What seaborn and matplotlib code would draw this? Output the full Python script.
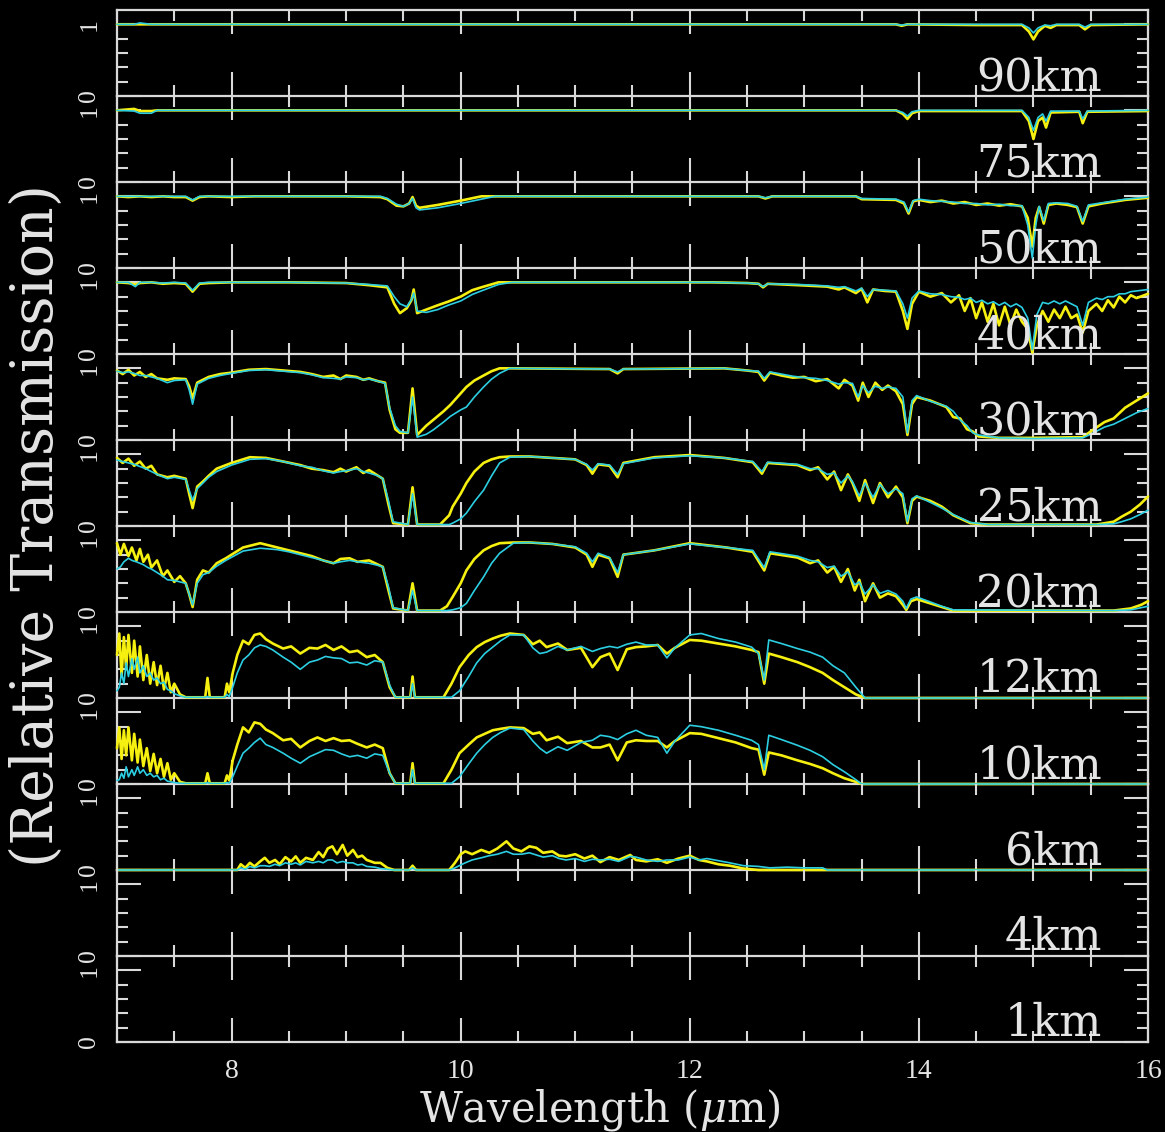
import matplotlib
matplotlib.use("Agg")
import matplotlib.pyplot as plt
from matplotlib.ticker import FixedLocator, MultipleLocator
import pandas as pd
import seaborn as sns

# Altitude panels, top to bottom
ALTITUDES = ["90km", "75km", "50km", "40km", "30km", "25km",
             "20km", "12km", "10km", "6km", "4km", "1km"]

X_TICKS = [8, 10, 12, 14, 16]
X_TICK_LABELS = ["8", "10", "12", "14", "16"]

# Each row: (wavelength in um, yellow transmission, cyan transmission)
KM90 = [(7.0, 1.0, 1.0), (7.15, 1.0, 1.0), (7.2, 1.0, 1.02), (7.3, 1.0, 1.0),
        (13.8, 1.0, 1.0), (13.85, 0.98, 0.99), (13.9, 1.0, 1.0), (14.5, 0.99, 1.0),
        (14.9, 0.99, 1.0), (14.96, 0.9, 0.95), (15.0, 0.79, 0.88), (15.04, 0.9, 0.95),
        (15.1, 0.98, 0.99), (15.15, 0.95, 0.98), (15.2, 0.99, 1.0), (15.4, 0.99, 1.0),
        (15.45, 0.93, 0.96), (15.5, 0.99, 1.0), (16.0, 1.0, 1.0)]

KM75 = [(7.0, 1.0, 1.0), (7.15, 1.02, 0.99), (7.2, 0.99, 0.96), (7.3, 0.99, 0.96),
        (7.35, 1.0, 1.0), (13.8, 1.0, 1.0), (13.86, 0.95, 0.97), (13.9, 0.88, 0.92),
        (13.94, 0.96, 0.98), (14.0, 0.99, 1.0), (14.9, 0.99, 1.0), (14.96, 0.85, 0.9),
        (15.0, 0.6, 0.72), (15.04, 0.85, 0.9), (15.08, 0.9, 0.95), (15.11, 0.76, 0.85),
        (15.15, 0.97, 0.99), (15.4, 0.98, 0.99), (15.43, 0.82, 0.88), (15.47, 0.98, 0.99),
        (16.0, 0.99, 1.0)]

KM50 = [(7.0, 1.0, 1.0), (7.1, 0.99, 1.0), (7.2, 1.0, 1.0), (7.3, 0.99, 1.0),
        (7.4, 1.0, 1.0), (7.5, 0.99, 1.0), (7.6, 0.99, 1.0), (7.66, 0.94, 0.95),
        (7.72, 0.99, 1.0), (7.8, 1.0, 1.0), (8.0, 0.99, 1.0), (8.2, 1.0, 1.0),
        (9.0, 1.0, 1.0), (9.3, 0.99, 1.0), (9.36, 0.96, 0.97), (9.44, 0.87, 0.89),
        (9.5, 0.86, 0.86), (9.55, 0.9, 0.9), (9.58, 0.99, 0.97), (9.61, 0.87, 0.84),
        (9.64, 0.84, 0.81), (9.8, 0.88, 0.84), (10.0, 0.94, 0.9), (10.18, 1.0, 0.96),
        (10.3, 1.0, 1.0), (12.6, 1.0, 1.0), (12.66, 0.97, 0.98), (12.72, 1.0, 1.0),
        (13.45, 1.0, 1.0), (13.5, 0.96, 0.97), (13.8, 0.95, 0.96), (13.87, 0.9, 0.92),
        (13.91, 0.76, 0.78), (13.95, 0.93, 0.94), (14.0, 0.95, 0.96), (14.1, 0.92, 0.94),
        (14.2, 0.94, 0.93), (14.3, 0.9, 0.92), (14.4, 0.92, 0.9), (14.5, 0.88, 0.9),
        (14.6, 0.9, 0.88), (14.7, 0.87, 0.89), (14.8, 0.89, 0.87), (14.9, 0.86, 0.87),
        (14.95, 0.7, 0.6), (14.99, 0.3, 0.14), (15.02, 0.7, 0.6), (15.05, 0.85, 0.86),
        (15.09, 0.62, 0.66), (15.13, 0.88, 0.9), (15.2, 0.9, 0.91), (15.3, 0.88, 0.9),
        (15.38, 0.85, 0.86), (15.43, 0.62, 0.65), (15.48, 0.86, 0.88), (15.6, 0.9, 0.91),
        (15.8, 0.95, 0.96), (16.0, 0.98, 0.99)]

KM40 = [(7.0, 1.0, 1.0), (7.1, 0.99, 1.0), (7.16, 0.97, 0.94), (7.2, 0.99, 1.0),
        (7.3, 1.0, 1.0), (7.4, 0.98, 0.99), (7.5, 0.99, 1.0), (7.6, 0.98, 0.99),
        (7.66, 0.87, 0.89), (7.72, 0.98, 0.99), (7.8, 0.99, 1.0), (8.0, 1.0, 1.0),
        (8.5, 1.0, 1.0), (9.0, 0.99, 0.99), (9.2, 0.96, 0.97), (9.36, 0.93, 0.95),
        (9.42, 0.7, 0.8), (9.47, 0.57, 0.7), (9.53, 0.64, 0.66), (9.57, 0.75, 0.76),
        (9.59, 0.9, 0.85), (9.62, 0.57, 0.6), (9.7, 0.62, 0.58), (9.8, 0.68, 0.62),
        (9.89, 0.73, 0.68), (10.0, 0.8, 0.74), (10.1, 0.89, 0.83), (10.18, 0.93, 0.88),
        (10.33, 1.0, 0.97), (10.45, 1.0, 1.0), (12.2, 1.0, 1.0), (12.5, 0.99, 0.99),
        (12.6, 0.98, 0.98), (12.64, 0.93, 0.94), (12.68, 0.98, 0.98), (12.95, 0.96, 0.97),
        (13.2, 0.94, 0.95), (13.3, 0.9, 0.93), (13.35, 0.93, 0.94), (13.45, 0.85, 0.88),
        (13.5, 0.91, 0.92), (13.55, 0.72, 0.8), (13.6, 0.9, 0.9), (13.7, 0.88, 0.89),
        (13.8, 0.87, 0.88), (13.86, 0.6, 0.7), (13.9, 0.35, 0.5), (13.94, 0.7, 0.78),
        (14.0, 0.87, 0.88), (14.1, 0.8, 0.84), (14.2, 0.85, 0.83), (14.28, 0.72, 0.8),
        (14.35, 0.82, 0.79), (14.4, 0.6, 0.76), (14.45, 0.78, 0.78), (14.5, 0.5, 0.72),
        (14.55, 0.72, 0.75), (14.6, 0.45, 0.7), (14.65, 0.7, 0.73), (14.7, 0.4, 0.68),
        (14.75, 0.66, 0.72), (14.8, 0.4, 0.66), (14.85, 0.62, 0.7), (14.9, 0.45, 0.65),
        (14.95, 0.35, 0.5), (14.99, 0.02, 0.06), (15.03, 0.4, 0.55), (15.08, 0.6, 0.72),
        (15.13, 0.45, 0.7), (15.18, 0.62, 0.74), (15.23, 0.5, 0.7), (15.28, 0.66, 0.74),
        (15.33, 0.5, 0.7), (15.38, 0.55, 0.66), (15.43, 0.3, 0.4), (15.48, 0.6, 0.72),
        (15.55, 0.7, 0.78), (15.6, 0.6, 0.76), (15.65, 0.75, 0.8), (15.7, 0.65, 0.8),
        (15.75, 0.8, 0.84), (15.8, 0.72, 0.84), (15.85, 0.82, 0.87), (15.9, 0.78, 0.88),
        (16.0, 0.84, 0.9)]

KM30 = [(7.0, 0.97, 0.96), (7.05, 0.92, 0.94), (7.1, 0.98, 0.95), (7.15, 0.9, 0.93),
        (7.2, 0.95, 0.9), (7.25, 0.88, 0.9), (7.3, 0.92, 0.88), (7.35, 0.86, 0.86),
        (7.44, 0.84, 0.8), (7.5, 0.86, 0.83), (7.6, 0.85, 0.84), (7.63, 0.75, 0.7),
        (7.66, 0.58, 0.5), (7.7, 0.8, 0.78), (7.8, 0.88, 0.86), (7.9, 0.92, 0.9),
        (8.0, 0.94, 0.93), (8.15, 0.98, 0.97), (8.3, 0.99, 0.98), (8.45, 0.97, 0.96),
        (8.6, 0.95, 0.94), (8.7, 0.92, 0.91), (8.8, 0.88, 0.87), (8.89, 0.9, 0.86),
        (8.95, 0.85, 0.85), (9.0, 0.9, 0.88), (9.09, 0.88, 0.87), (9.15, 0.84, 0.84),
        (9.2, 0.86, 0.85), (9.28, 0.82, 0.82), (9.34, 0.8, 0.79), (9.38, 0.42, 0.45),
        (9.43, 0.15, 0.2), (9.47, 0.1, 0.12), (9.54, 0.1, 0.1), (9.58, 0.72, 0.6),
        (9.62, 0.07, 0.04), (9.7, 0.2, 0.08), (9.76, 0.28, 0.14), (9.85, 0.4, 0.25),
        (9.91, 0.49, 0.33), (10.0, 0.65, 0.42), (10.05, 0.74, 0.46), (10.12, 0.83, 0.6),
        (10.2, 0.9, 0.74), (10.27, 0.96, 0.85), (10.34, 1.0, 0.93), (10.43, 1.0, 1.0),
        (11.3, 0.99, 0.99), (11.37, 0.93, 0.95), (11.42, 0.99, 0.99), (12.3, 1.0, 1.0),
        (12.5, 0.97, 0.97), (12.6, 0.95, 0.96), (12.65, 0.83, 0.86), (12.7, 0.94, 0.95),
        (12.8, 0.9, 0.92), (12.9, 0.87, 0.89), (13.0, 0.88, 0.87), (13.1, 0.82, 0.86),
        (13.2, 0.85, 0.83), (13.3, 0.72, 0.78), (13.35, 0.84, 0.8), (13.42, 0.76, 0.79),
        (13.47, 0.55, 0.6), (13.51, 0.8, 0.76), (13.56, 0.6, 0.66), (13.62, 0.8, 0.75),
        (13.68, 0.7, 0.72), (13.73, 0.76, 0.74), (13.8, 0.68, 0.72), (13.86, 0.5, 0.6),
        (13.9, 0.07, 0.1), (13.94, 0.5, 0.55), (13.98, 0.6, 0.62), (14.1, 0.55, 0.54),
        (14.24, 0.46, 0.47), (14.3, 0.32, 0.4), (14.36, 0.3, 0.28), (14.42, 0.15, 0.2),
        (14.47, 0.12, 0.1), (14.52, 0.05, 0.07), (14.7, 0.03, 0.03), (15.0, 0.03, 0.02),
        (15.43, 0.04, 0.03), (15.5, 0.12, 0.08), (15.62, 0.25, 0.18), (15.7, 0.3, 0.22),
        (15.8, 0.45, 0.3), (15.9, 0.55, 0.38), (16.0, 0.65, 0.44)]

KM25 = [(7.0, 0.95, 0.92), (7.05, 0.88, 0.9), (7.1, 0.94, 0.88), (7.15, 0.84, 0.86),
        (7.2, 0.9, 0.83), (7.25, 0.8, 0.8), (7.3, 0.84, 0.76), (7.35, 0.72, 0.72),
        (7.44, 0.68, 0.66), (7.5, 0.7, 0.68), (7.6, 0.66, 0.65), (7.63, 0.45, 0.5),
        (7.66, 0.25, 0.36), (7.7, 0.55, 0.52), (7.75, 0.62, 0.6), (7.8, 0.7, 0.68),
        (7.87, 0.8, 0.76), (8.0, 0.88, 0.85), (8.16, 0.96, 0.93), (8.3, 0.95, 0.94),
        (8.45, 0.9, 0.9), (8.6, 0.85, 0.84), (8.7, 0.8, 0.82), (8.8, 0.78, 0.77),
        (8.89, 0.75, 0.74), (8.95, 0.8, 0.76), (9.0, 0.76, 0.77), (9.09, 0.82, 0.8),
        (9.15, 0.74, 0.76), (9.2, 0.78, 0.74), (9.28, 0.7, 0.7), (9.32, 0.66, 0.66),
        (9.37, 0.3, 0.35), (9.41, 0.04, 0.06), (9.54, 0.02, 0.02), (9.58, 0.54, 0.45),
        (9.62, 0.02, 0.02), (9.82, 0.02, 0.02), (9.9, 0.15, 0.02), (9.93, 0.27, 0.04),
        (10.0, 0.45, 0.1), (10.05, 0.6, 0.18), (10.12, 0.76, 0.34), (10.2, 0.88, 0.5),
        (10.27, 0.93, 0.7), (10.34, 0.96, 0.88), (10.43, 0.97, 0.96), (10.6, 0.97, 0.97),
        (11.0, 0.93, 0.93), (11.1, 0.85, 0.86), (11.15, 0.73, 0.78), (11.2, 0.86, 0.87),
        (11.3, 0.84, 0.85), (11.37, 0.68, 0.72), (11.42, 0.88, 0.87), (11.69, 0.96, 0.95),
        (12.0, 0.99, 0.98), (12.3, 0.95, 0.95), (12.55, 0.89, 0.9), (12.63, 0.73, 0.76),
        (12.68, 0.88, 0.89), (12.94, 0.85, 0.86), (13.05, 0.78, 0.8), (13.12, 0.82, 0.8),
        (13.2, 0.65, 0.72), (13.26, 0.76, 0.74), (13.32, 0.5, 0.6), (13.38, 0.72, 0.7),
        (13.42, 0.6, 0.62), (13.48, 0.35, 0.42), (13.53, 0.64, 0.6), (13.6, 0.32, 0.4),
        (13.66, 0.6, 0.58), (13.73, 0.4, 0.45), (13.8, 0.55, 0.52), (13.86, 0.4, 0.45),
        (13.9, 0.04, 0.06), (13.94, 0.35, 0.38), (13.98, 0.41, 0.42), (14.1, 0.35, 0.33),
        (14.2, 0.27, 0.25), (14.3, 0.15, 0.16), (14.45, 0.04, 0.05), (14.6, 0.02, 0.02),
        (15.55, 0.02, 0.02), (15.7, 0.06, 0.03), (15.77, 0.13, 0.06), (15.85, 0.2, 0.1),
        (15.93, 0.3, 0.16), (16.0, 0.41, 0.22)]

KM20 = [(7.0, 0.96, 0.6), (7.03, 0.8, 0.63), (7.06, 0.95, 0.7), (7.1, 0.78, 0.75),
        (7.13, 0.9, 0.72), (7.17, 0.72, 0.7), (7.2, 0.88, 0.68), (7.23, 0.7, 0.66),
        (7.27, 0.8, 0.62), (7.3, 0.62, 0.6), (7.35, 0.72, 0.55), (7.4, 0.5, 0.5),
        (7.44, 0.58, 0.45), (7.5, 0.42, 0.44), (7.55, 0.5, 0.42), (7.6, 0.4, 0.4),
        (7.63, 0.25, 0.25), (7.66, 0.07, 0.1), (7.7, 0.45, 0.4), (7.75, 0.58, 0.52),
        (7.8, 0.55, 0.55), (7.87, 0.68, 0.64), (7.95, 0.75, 0.72), (8.1, 0.9, 0.85),
        (8.25, 0.96, 0.89), (8.4, 0.9, 0.87), (8.5, 0.86, 0.84), (8.6, 0.82, 0.8),
        (8.7, 0.78, 0.76), (8.8, 0.72, 0.72), (8.89, 0.68, 0.68), (8.95, 0.74, 0.7),
        (9.03, 0.75, 0.72), (9.1, 0.7, 0.7), (9.2, 0.72, 0.68), (9.28, 0.66, 0.65),
        (9.32, 0.63, 0.63), (9.37, 0.3, 0.35), (9.41, 0.05, 0.06), (9.54, 0.02, 0.02),
        (9.58, 0.4, 0.3), (9.62, 0.02, 0.02), (9.82, 0.02, 0.02), (9.88, 0.08, 0.02),
        (9.93, 0.21, 0.03), (10.0, 0.4, 0.06), (10.05, 0.58, 0.12), (10.12, 0.74, 0.3),
        (10.2, 0.86, 0.49), (10.27, 0.92, 0.68), (10.34, 0.96, 0.82), (10.46, 0.97, 0.96),
        (10.6, 0.97, 0.97), (10.8, 0.95, 0.95), (11.0, 0.9, 0.91), (11.1, 0.8, 0.82),
        (11.15, 0.63, 0.7), (11.2, 0.8, 0.82), (11.3, 0.75, 0.76), (11.37, 0.49, 0.55),
        (11.42, 0.8, 0.8), (11.69, 0.86, 0.86), (12.0, 0.96, 0.95), (12.32, 0.9, 0.9),
        (12.55, 0.84, 0.86), (12.65, 0.58, 0.62), (12.7, 0.82, 0.84), (12.94, 0.76, 0.78),
        (13.05, 0.68, 0.72), (13.12, 0.72, 0.7), (13.2, 0.55, 0.62), (13.26, 0.63, 0.64),
        (13.32, 0.42, 0.5), (13.38, 0.6, 0.56), (13.44, 0.3, 0.38), (13.48, 0.45, 0.42),
        (13.53, 0.15, 0.25), (13.6, 0.4, 0.38), (13.66, 0.2, 0.26), (13.73, 0.26, 0.3),
        (13.8, 0.22, 0.25), (13.86, 0.1, 0.15), (13.89, 0.03, 0.05), (13.93, 0.15, 0.18),
        (13.98, 0.18, 0.21), (14.1, 0.12, 0.14), (14.2, 0.07, 0.08), (14.3, 0.02, 0.03),
        (15.7, 0.02, 0.02), (15.85, 0.05, 0.03), (15.94, 0.1, 0.06), (16.0, 0.15, 0.08)]

KM12 = [(7.0, 0.6, 0.1), (7.02, 0.9, 0.15), (7.04, 0.3, 0.35), (7.06, 0.85, 0.2),
        (7.08, 0.4, 0.49), (7.1, 0.88, 0.3), (7.13, 0.35, 0.55), (7.15, 0.8, 0.4),
        (7.18, 0.3, 0.57), (7.2, 0.72, 0.35), (7.23, 0.25, 0.45), (7.26, 0.6, 0.3),
        (7.29, 0.2, 0.35), (7.32, 0.5, 0.25), (7.35, 0.18, 0.28), (7.38, 0.45, 0.2),
        (7.41, 0.12, 0.22), (7.44, 0.35, 0.12), (7.47, 0.08, 0.1), (7.5, 0.2, 0.06),
        (7.55, 0.05, 0.03), (7.6, 0.01, 0.01), (7.77, 0.01, 0.01), (7.79, 0.28, 0.02),
        (7.81, 0.01, 0.01), (7.94, 0.01, 0.01), (7.96, 0.2, 0.05), (7.98, 0.08, 0.02),
        (8.01, 0.35, 0.15), (8.05, 0.6, 0.35), (8.1, 0.8, 0.53), (8.15, 0.75, 0.6),
        (8.2, 0.88, 0.7), (8.25, 0.9, 0.74), (8.3, 0.82, 0.72), (8.36, 0.76, 0.67),
        (8.45, 0.69, 0.57), (8.52, 0.72, 0.5), (8.6, 0.62, 0.4), (8.68, 0.7, 0.5),
        (8.75, 0.69, 0.53), (8.82, 0.74, 0.58), (8.89, 0.67, 0.56), (8.96, 0.72, 0.55),
        (9.03, 0.64, 0.49), (9.1, 0.66, 0.5), (9.18, 0.57, 0.46), (9.25, 0.6, 0.52),
        (9.32, 0.5, 0.5), (9.38, 0.15, 0.18), (9.43, 0.01, 0.01), (9.56, 0.01, 0.01),
        (9.58, 0.3, 0.2), (9.6, 0.01, 0.01), (9.85, 0.01, 0.01), (9.92, 0.2, 0.01),
        (9.99, 0.43, 0.1), (10.07, 0.6, 0.3), (10.14, 0.71, 0.49), (10.21, 0.78, 0.62),
        (10.28, 0.83, 0.71), (10.35, 0.87, 0.8), (10.43, 0.9, 0.88), (10.55, 0.88, 0.88),
        (10.63, 0.75, 0.7), (10.69, 0.8, 0.62), (10.75, 0.71, 0.64), (10.85, 0.76, 0.72),
        (10.93, 0.67, 0.67), (11.05, 0.7, 0.72), (11.15, 0.43, 0.65), (11.22, 0.57, 0.69),
        (11.3, 0.62, 0.72), (11.37, 0.39, 0.7), (11.45, 0.68, 0.75), (11.53, 0.71, 0.78),
        (11.62, 0.72, 0.74), (11.72, 0.74, 0.74), (11.8, 0.62, 0.56), (11.87, 0.7, 0.7),
        (12.0, 0.81, 0.88), (12.1, 0.8, 0.9), (12.25, 0.76, 0.83), (12.4, 0.72, 0.78),
        (12.54, 0.67, 0.71), (12.6, 0.64, 0.62), (12.65, 0.2, 0.25), (12.69, 0.62, 0.81),
        (12.8, 0.57, 0.76), (12.94, 0.5, 0.69), (13.05, 0.43, 0.64), (13.16, 0.35, 0.57),
        (13.25, 0.25, 0.45), (13.35, 0.15, 0.35), (13.45, 0.05, 0.15), (13.53, 0.0, 0.0),
        (16.0, 0.0, 0.0)]

KM10 = [(7.0, 0.5, 0.05), (7.02, 0.79, 0.06), (7.04, 0.35, 0.15), (7.06, 0.75, 0.08),
        (7.08, 0.4, 0.24), (7.1, 0.79, 0.1), (7.13, 0.33, 0.2), (7.15, 0.7, 0.12),
        (7.18, 0.3, 0.24), (7.2, 0.62, 0.15), (7.23, 0.25, 0.2), (7.26, 0.5, 0.12),
        (7.29, 0.18, 0.15), (7.32, 0.42, 0.1), (7.35, 0.15, 0.12), (7.38, 0.35, 0.06),
        (7.41, 0.1, 0.08), (7.44, 0.29, 0.04), (7.47, 0.06, 0.03), (7.5, 0.15, 0.02),
        (7.55, 0.03, 0.01), (7.6, 0.01, 0.01), (7.77, 0.01, 0.01), (7.79, 0.15, 0.02),
        (7.81, 0.01, 0.01), (7.94, 0.01, 0.01), (7.96, 0.12, 0.02), (7.98, 0.05, 0.01),
        (8.01, 0.33, 0.1), (8.05, 0.55, 0.25), (8.1, 0.79, 0.43), (8.15, 0.72, 0.5),
        (8.2, 0.86, 0.58), (8.25, 0.84, 0.64), (8.3, 0.76, 0.55), (8.36, 0.71, 0.51),
        (8.45, 0.61, 0.43), (8.52, 0.63, 0.36), (8.6, 0.51, 0.29), (8.68, 0.6, 0.38),
        (8.75, 0.65, 0.43), (8.82, 0.6, 0.48), (8.89, 0.64, 0.47), (8.96, 0.6, 0.42),
        (9.03, 0.61, 0.38), (9.1, 0.56, 0.4), (9.18, 0.51, 0.36), (9.25, 0.55, 0.42),
        (9.32, 0.5, 0.4), (9.38, 0.15, 0.15), (9.43, 0.01, 0.01), (9.56, 0.01, 0.01),
        (9.58, 0.29, 0.2), (9.6, 0.01, 0.01), (9.85, 0.01, 0.01), (9.92, 0.2, 0.01),
        (9.99, 0.43, 0.1), (10.07, 0.55, 0.28), (10.14, 0.65, 0.43), (10.21, 0.7, 0.55),
        (10.28, 0.75, 0.65), (10.35, 0.77, 0.72), (10.43, 0.79, 0.78), (10.55, 0.78, 0.76),
        (10.63, 0.7, 0.6), (10.69, 0.72, 0.5), (10.75, 0.61, 0.43), (10.85, 0.66, 0.52),
        (10.93, 0.57, 0.47), (11.05, 0.6, 0.58), (11.15, 0.51, 0.61), (11.22, 0.51, 0.68),
        (11.3, 0.55, 0.66), (11.37, 0.33, 0.62), (11.45, 0.58, 0.7), (11.53, 0.61, 0.75),
        (11.62, 0.6, 0.68), (11.72, 0.6, 0.65), (11.8, 0.51, 0.43), (11.87, 0.6, 0.6),
        (12.0, 0.71, 0.82), (12.1, 0.7, 0.8), (12.25, 0.64, 0.75), (12.4, 0.58, 0.68),
        (12.54, 0.5, 0.61), (12.6, 0.48, 0.55), (12.65, 0.13, 0.2), (12.69, 0.44, 0.68),
        (12.8, 0.4, 0.62), (12.94, 0.33, 0.54), (13.05, 0.28, 0.47), (13.16, 0.22, 0.38),
        (13.25, 0.15, 0.27), (13.35, 0.08, 0.17), (13.45, 0.03, 0.06), (13.5, 0.0, 0.0),
        (16.0, 0.0, 0.0)]

KM6 = [(7.0, 0.0, 0.0), (8.05, 0.0, 0.0), (8.08, 0.08, 0.03), (8.12, 0.03, 0.01),
       (8.16, 0.1, 0.05), (8.2, 0.05, 0.03), (8.25, 0.12, 0.06), (8.29, 0.17, 0.06),
       (8.33, 0.1, 0.05), (8.38, 0.14, 0.08), (8.42, 0.08, 0.06), (8.47, 0.18, 0.1),
       (8.52, 0.12, 0.08), (8.56, 0.19, 0.1), (8.6, 0.1, 0.07), (8.65, 0.17, 0.12),
       (8.71, 0.14, 0.1), (8.76, 0.25, 0.12), (8.8, 0.18, 0.1), (8.84, 0.3, 0.14),
       (8.88, 0.33, 0.14), (8.92, 0.22, 0.1), (8.97, 0.35, 0.12), (9.01, 0.2, 0.1),
       (9.06, 0.28, 0.1), (9.1, 0.18, 0.07), (9.14, 0.2, 0.08), (9.18, 0.14, 0.05),
       (9.25, 0.1, 0.04), (9.3, 0.1, 0.02), (9.36, 0.03, 0.01), (9.42, 0.0, 0.0),
       (9.55, 0.0, 0.0), (9.58, 0.06, 0.03), (9.61, 0.0, 0.0), (9.9, 0.0, 0.0),
       (9.95, 0.1, 0.03), (10.0, 0.22, 0.07), (10.04, 0.26, 0.1), (10.1, 0.22, 0.14),
       (10.18, 0.28, 0.17), (10.25, 0.24, 0.2), (10.32, 0.3, 0.22), (10.4, 0.4, 0.26),
       (10.46, 0.3, 0.22), (10.53, 0.26, 0.22), (10.6, 0.33, 0.24), (10.66, 0.31, 0.21),
       (10.72, 0.24, 0.18), (10.8, 0.26, 0.2), (10.86, 0.2, 0.16), (10.92, 0.19, 0.14),
       (11.0, 0.22, 0.16), (11.08, 0.16, 0.12), (11.15, 0.2, 0.15), (11.22, 0.11, 0.14),
       (11.3, 0.18, 0.15), (11.38, 0.14, 0.12), (11.48, 0.21, 0.19), (11.53, 0.14, 0.18),
       (11.62, 0.12, 0.14), (11.72, 0.15, 0.12), (11.8, 0.1, 0.14), (11.9, 0.16, 0.14),
       (12.0, 0.2, 0.18), (12.08, 0.14, 0.14), (12.15, 0.12, 0.16), (12.25, 0.08, 0.13),
       (12.35, 0.06, 0.1), (12.47, 0.02, 0.06), (12.6, 0.0, 0.05), (12.7, 0.0, 0.03),
       (12.85, 0.0, 0.04), (13.0, 0.0, 0.03), (13.16, 0.0, 0.03), (13.2, 0.0, 0.0),
       (16.0, 0.0, 0.0)]

# No measurable transmission recorded in the two lowest layers
KM4 = []
KM1 = []

YELLOW = "#f6f010"
CYAN = "#2ccfe2"
FRAME = "#d9d9d9"
TEXT = "#e4e4e4"
TICK_FONT = "Liberation Serif"

SPECTRA = dict(zip(ALTITUDES, [KM90, KM75, KM50, KM40, KM30, KM25,
                               KM20, KM12, KM10, KM6, KM4, KM1]))

sns.set_theme(style="dark", rc={
    "figure.facecolor": "black",
    "axes.facecolor": "none",
    "axes.edgecolor": FRAME,
    "axes.linewidth": 1.6,
    "xtick.color": FRAME,
    "ytick.color": FRAME,
    "text.color": TEXT,
    "axes.grid": False,
})
plt.rcParams["font.family"] = ["DejaVu Serif"]
plt.rcParams["mathtext.fontset"] = "dejavuserif"

fig = plt.figure(figsize=(11.65, 11.32), dpi=100, facecolor="black")
axes = fig.subplots(
    len(ALTITUDES), 1, sharex=True,
    gridspec_kw=dict(hspace=0, left=117 / 1165, right=1148 / 1165,
                     bottom=90 / 1132, top=1122 / 1132),
)

for i, (ax, alt) in enumerate(zip(axes, ALTITUDES)):
    ax.patch.set_alpha(0)
    rows = SPECTRA[alt]
    if rows:
        df = pd.DataFrame(rows, columns=["wavelength", "yellow", "cyan"])
        # wide yellow trace underneath, narrower cyan trace on top
        sns.lineplot(data=df, x="wavelength", y="yellow", ax=ax, color=YELLOW,
                     lw=1.9, estimator=None, sort=False, zorder=3, clip_on=False)
        sns.lineplot(data=df, x="wavelength", y="cyan", ax=ax, color=CYAN,
                     lw=1.2, estimator=None, sort=False, zorder=4, clip_on=False)
    ax.set_xlim(7, 16)
    ax.set_ylim(0, 1.2)
    ax.set_xlabel("")
    ax.set_ylabel("")
    if i > 0:
        ax.spines["top"].set_visible(False)
    for side in ("left", "right", "bottom", "top"):
        ax.spines[side].set_color(FRAME)
        ax.spines[side].set_linewidth(1.6)
        ax.spines[side].set_zorder(2)

    ax.xaxis.set_major_locator(FixedLocator(X_TICKS))
    ax.xaxis.set_minor_locator(MultipleLocator(0.5))
    ax.tick_params(axis="x", which="major", direction="in", length=17, width=1.5,
                   top=True, bottom=True, color=FRAME, labelcolor=TEXT, pad=12)
    ax.tick_params(axis="x", which="minor", direction="in", length=8, width=1.5,
                   top=True, bottom=True, color=FRAME)

    # each panel runs 0..1.2; its "0" sits beside the next panel's "1"
    ax.set_yticks([0, 1])
    ax.set_yticklabels(["0", "1"], fontsize=18.5, family=TICK_FONT)
    ax.yaxis.set_minor_locator(FixedLocator([0.2, 0.4, 0.6, 0.8]))
    ax.tick_params(axis="y", which="major", direction="in", length=17, width=1.5,
                   left=True, right=True, color=FRAME, labelcolor=TEXT, pad=12)
    ax.tick_params(axis="y", which="minor", direction="in", length=8, width=1.5,
                   left=True, right=True, color=FRAME)
    for lab in ax.get_yticklabels():
        lab.set_rotation(90)
        lab.set_va("center")

    ax.text(15.6, 0.08, alt, ha="right", va="baseline", fontsize=32,
            color=TEXT, zorder=10)

axes[-1].set_xticks(X_TICKS)
axes[-1].set_xticklabels(X_TICK_LABELS, fontsize=20, family=TICK_FONT)

fig.text(0.032, 0.536, "(Relative Transmission)", rotation=90, ha="center",
         va="center", fontsize=41, color=TEXT)
fig.text(0.515, 0.019, r"Wavelength ($\mu$m)", ha="center", va="center",
         fontsize=30, color=TEXT)

fig.savefig("out.png", dpi=100, facecolor="black")
